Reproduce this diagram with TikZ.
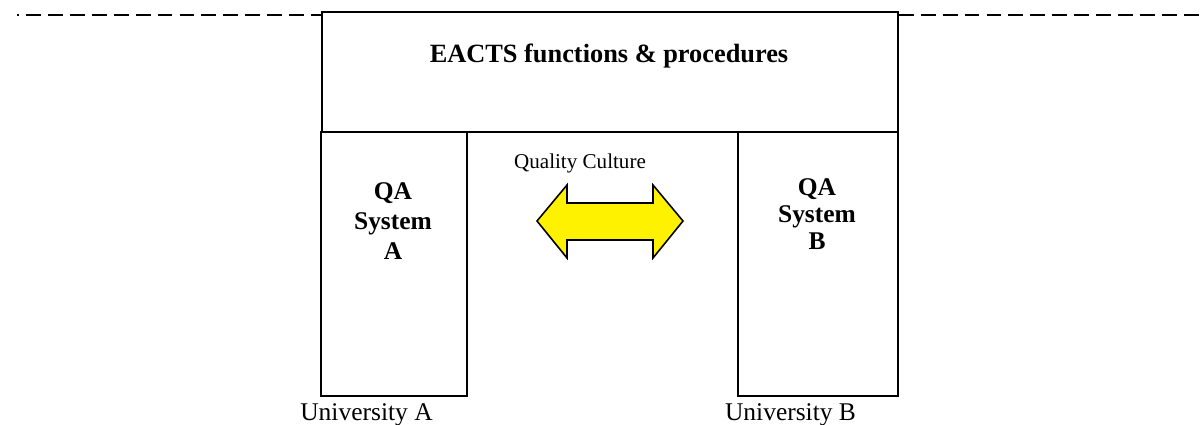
\documentclass[tikz,border=0pt]{standalone}
\usepackage{fontspec}
\setmainfont{Liberation Serif}
\usepackage{tikz}
\usetikzlibrary{positioning}

\begin{document}
\begin{tikzpicture}[
    x=0.02cm, y=-0.02cm,
    frame/.style={rectangle, draw, line width=0.8pt, inner sep=0pt},
    boxtext/.style={align=center, inner sep=0pt, font=\bfseries\fontsize{14.5}{17}\selectfont},
    plaintext/.style={inner sep=0pt, font=\fontsize{14.5}{17}\selectfont},
    dashline/.style={line width=0.8pt, dash pattern=on 8.5pt off 4pt},
    qcarrow/.style={draw, line width=0.9pt, fill=yellow, line join=miter}
    ]
\useasboundingbox (0,0) rectangle (1203,425);

% top bar and the two pillars
\node[frame, minimum width=11.52cm, minimum height=2.4cm] (eacts) at (610,72) {};
\node[frame, minimum width=2.92cm, minimum height=5.28cm] (pillarA) at (394,264) {};
\node[frame, minimum width=3.2cm, minimum height=5.28cm] (pillarB) at (818,264) {};

% texts
\node[boxtext, font=\bfseries\fontsize{15}{17}\selectfont] (eactstext) at (609,56) {EACTS functions \& procedures};
\node[boxtext] (qaA) at (393,221) {QA\\System\\A};
\node[boxtext, font=\bfseries\fontsize{14.5}{15.5}\selectfont] (qaB) at (817,214) {QA\\System\\B};
\node[plaintext, below=0.14cm of pillarA.south, xshift=-0.55cm] (uniA) {University A};
\node[plaintext, below=0.14cm of pillarB.south, xshift=-0.55cm] (uniB) {University B};
\node[inner sep=0pt, font=\fontsize{12}{14}\selectfont] (culture) at (580,163) {Quality Culture};

% dashed horizon
\coordinate (dashL) at (17,15);
\coordinate (dashR) at (1203,15);
\draw[dashline, dash phase=7.5pt] (dashL) -- (dashL -| eacts.west);
\draw[dashline] (dashR -| eacts.east) -- (dashR);

% double arrow between the systems
\coordinate (mid) at (610,221);
\draw[qcarrow] (mid) ++(-73,0) -- ++(30,-36) -- ++(0,18) -- ++(86,0) -- ++(0,-18)
    -- ++(30,36) -- ++(-30,37) -- ++(0,-18) -- ++(-86,0) -- ++(0,18) -- cycle;
\end{tikzpicture}
\end{document}
